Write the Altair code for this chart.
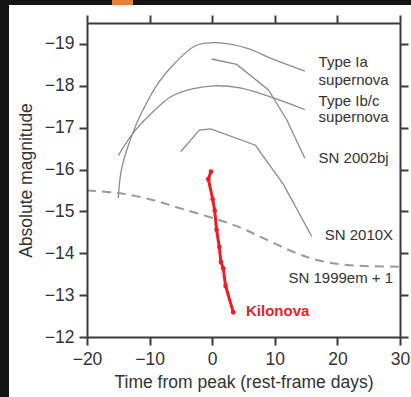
import altair as alt
import pandas as pd

# ---- data ----
ia_t = [-15.0, -14.5, -12.9, -11.3, -8.6, -5.9, -2.75, 0.7, 5.5, 9.8, 14.8]
ia_m = [-15.32, -16.0, -16.79, -17.35, -18.07, -18.55, -18.95, -19.03, -18.9, -18.63, -18.35]

ibc_t = [-15.0, -12.86, -9.66, -6.47, -3.0, 0.18, 4.44, 9.76, 14.8]
ibc_m = [-16.33, -16.83, -17.35, -17.75, -17.93, -18.0, -17.95, -17.71, -17.43]

sn02bj_t = [-0.1, 3.9, 9.0, 11.9, 14.8]
sn02bj_m = [-18.64, -18.51, -17.9, -17.19, -16.27]

sn10x_t = [-5.0, -2.06, -0.24, 6.9, 11.4, 15.9]
sn10x_m = [-16.43, -16.94, -16.97, -16.58, -15.64, -14.4]

sn99em_t = [-20.0, -15.0, -9.67, -4.35, 0.97, 4.7, 8.16, 13.5, 16.7, 21.5, 30.0]
sn99em_m = [-15.5, -15.44, -15.28, -15.04, -14.8, -14.6, -14.36, -14.0, -13.84, -13.72, -13.68]

kn_t = [-0.19, -0.62, 0.08, 0.4, 0.7, 1.13, 1.4, 1.77, 2.14, 3.37]
kn_m = [-15.95, -15.77, -15.29, -15.02, -14.56, -14.15, -13.79, -13.64, -13.22, -12.59]

left_labels = ["Type Ia", "supernova", "Type Ib/c", "supernova", "SN 2002bj"]
left_label_t = [17.0, 17.0, 17.0, 17.0, 17.0]
left_label_m = [-18.56, -18.15, -17.63, -17.25, -16.28]

right_labels = ["SN 2010X", "SN 1999em + 1"]
right_label_t = [28.9, 28.9]
right_label_m = [-14.44, -13.42]

kn_label = ["Kilonova"]
kn_label_t = [5.4]
kn_label_m = [-12.62]

x_ticks = [-20, -10, 0, 10, 20, 30]
y_ticks = [-19, -18, -17, -16, -15, -14, -13, -12]

# ---- tables ----
rows = []
for name, ts, ms in [("Type Ia", ia_t, ia_m), ("Type Ib/c", ibc_t, ibc_m)]:
    for t, m in zip(ts, ms):
        rows.append({"series": name, "t": t, "m": m})
smooth_df = pd.DataFrame(rows)

rows = []
for name, ts, ms in [("SN 2002bj", sn02bj_t, sn02bj_m), ("SN 2010X", sn10x_t, sn10x_m)]:
    for t, m in zip(ts, ms):
        rows.append({"series": name, "t": t, "m": m})
kinked_df = pd.DataFrame(rows)

dash_df = pd.DataFrame({"t": sn99em_t, "m": sn99em_m})
kn_df = pd.DataFrame({"t": kn_t, "m": kn_m, "i": list(range(len(kn_t)))})
left_df = pd.DataFrame({"t": left_label_t, "m": left_label_m, "label": left_labels})
right_df = pd.DataFrame({"t": right_label_t, "m": right_label_m, "label": right_labels})
knl_df = pd.DataFrame({"t": kn_label_t, "m": kn_label_m, "label": kn_label})
one = pd.DataFrame({"a": [0]})

xs = alt.Scale(domain=[-20, 30], nice=False, zero=False)
ys = alt.Scale(domain=[-19.5, -12], nice=False, zero=False, reverse=True)

FONT = "Liberation Sans, Arial, Helvetica, sans-serif"
GRAY = "#8c8c8c"

def X(axis=None):
    if axis is None:
        return alt.X("t:Q", scale=xs, axis=None)
    return alt.X("t:Q", scale=xs, axis=axis)

def Y(axis=None):
    if axis is None:
        return alt.Y("m:Q", scale=ys, axis=None)
    return alt.Y("m:Q", scale=ys, axis=axis)

# decorative screenshot frame (white page on dark border)
panel = alt.Chart(one).mark_rect(color="white").encode(
    x=alt.value(-78), x2=alt.value(324), y=alt.value(-18), y2=alt.value(374)
)
tab = alt.Chart(one).mark_rect(color="#e2803f").encode(
    x=alt.value(25), x2=alt.value(46), y=alt.value(-23), y2=alt.value(-18)
)

smooth = alt.Chart(smooth_df).mark_line(
    color=GRAY, strokeWidth=1.3, interpolate="catmull-rom"
).encode(
    x=X(alt.Axis(values=x_ticks, title="Time from peak (rest-frame days)",
                 labelPadding=5, titlePadding=6, orient="bottom", zindex=2,
                 labelFlush=False)),
    y=Y(alt.Axis(values=y_ticks, title="Absolute magnitude",
                 labelPadding=5, titlePadding=9, orient="left", zindex=2,
                 labelFlush=False)),
    detail="series:N",
)

kinked = alt.Chart(kinked_df).mark_line(color=GRAY, strokeWidth=1.3).encode(
    x=X(alt.Axis(values=x_ticks, title="", labels=False, orient="top", zindex=2)),
    y=Y(alt.Axis(values=y_ticks, title="", labels=False, orient="right", zindex=2)),
    detail="series:N",
)

dashed = alt.Chart(dash_df).mark_line(
    color="#9a9a9a", strokeWidth=2, strokeDash=[9, 6], interpolate="catmull-rom"
).encode(x=X(), y=Y())

kn_line = alt.Chart(kn_df).mark_line(color="#ee1c25", strokeWidth=3).encode(
    x=X(), y=Y(), order="i:Q"
)
kn_pts = alt.Chart(kn_df).mark_circle(color="#ee1c25", size=22, opacity=1).encode(
    x=X(), y=Y()
)

txt_left = alt.Chart(left_df).mark_text(
    align="left", baseline="middle", font=FONT, fontSize=15, color="#333333"
).encode(x=X(), y=Y(), text="label:N")

txt_right = alt.Chart(right_df).mark_text(
    align="right", baseline="middle", font=FONT, fontSize=15, color="#333333"
).encode(x=X(), y=Y(), text="label:N")

txt_kn = alt.Chart(knl_df).mark_text(
    align="left", baseline="middle", font=FONT, fontSize=15, fontWeight="bold",
    color="#ee1c25"
).encode(x=X(), y=Y(), text="label:N")

chart = alt.layer(
    panel, tab, smooth, kinked, dashed, kn_line, kn_pts, txt_left, txt_right, txt_kn
).resolve_axis(
    x="independent", y="independent"
).properties(
    width=313, height=314,
    autosize=alt.AutoSizeParams(type="none"),
    padding={"left": 87, "top": 23, "right": 11, "bottom": 60},
    background="#141414",
).configure_view(
    stroke=None
).configure_axis(
    grid=False,
    domainColor="#3a3a3a", domainWidth=2,
    tickColor="#3a3a3a", tickWidth=2, tickSize=8,
    labelFont=FONT, labelFontSize=17.5, labelColor="#333333",
    titleFont=FONT, titleFontSize=17.5, titleColor="#333333", titleFontWeight="normal",
)

chart.save("out.html", embed_options={"renderer": "svg", "actions": False})
